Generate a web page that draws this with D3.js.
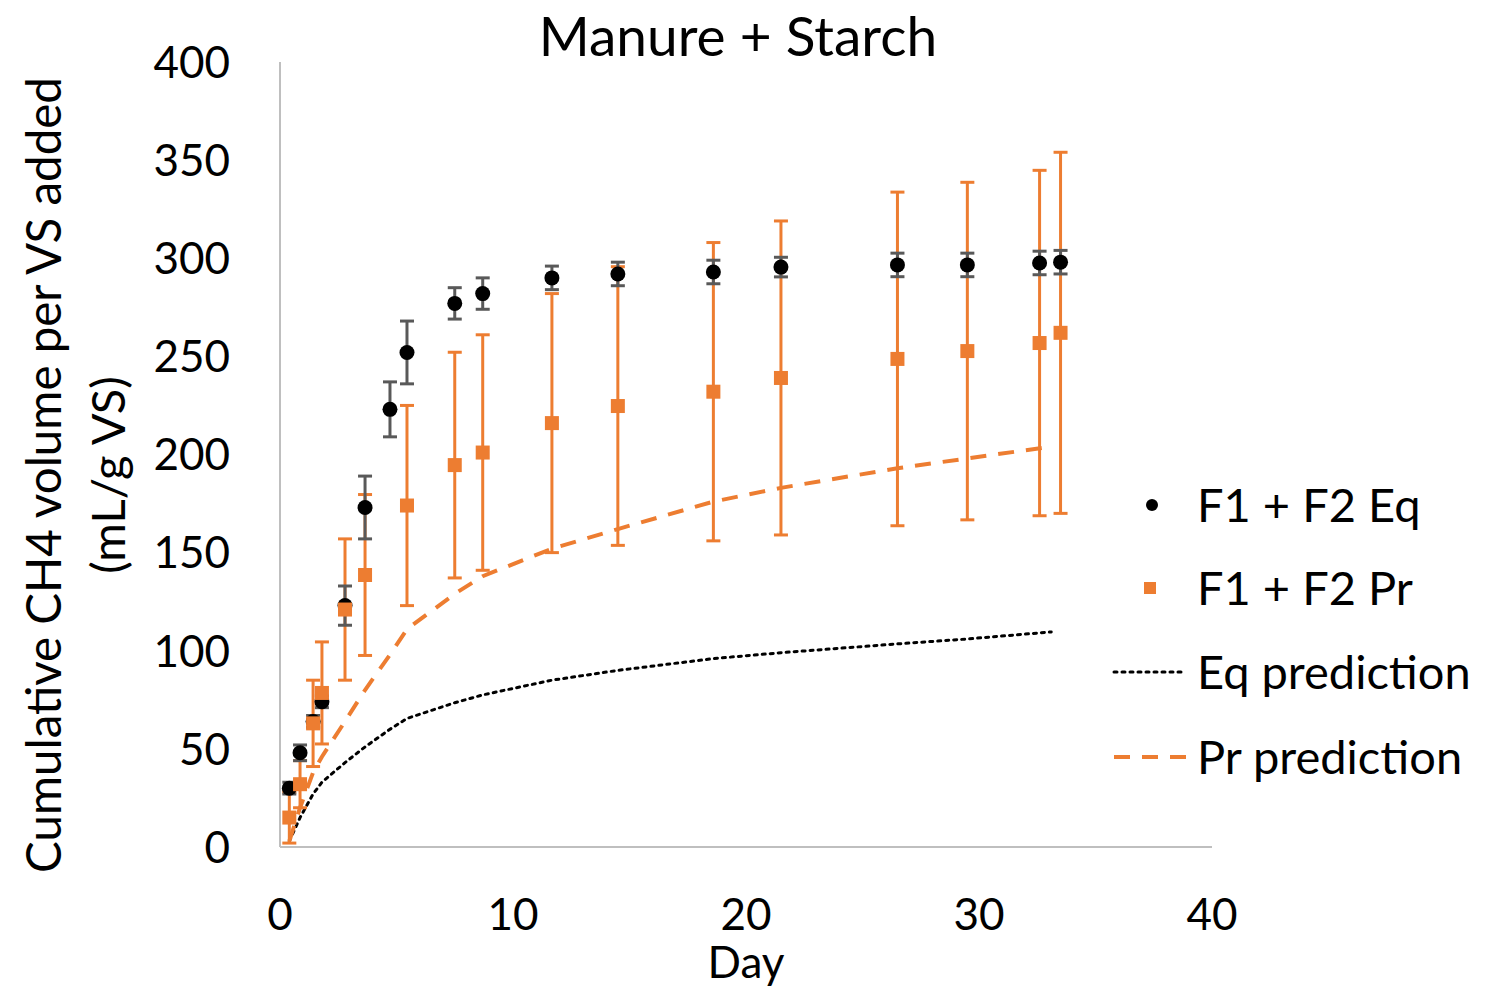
<!DOCTYPE html>
<html>
<head>
<meta charset="utf-8">
<script src="https://cdn.jsdelivr.net/npm/d3@7"></script>
<style>
  body { margin: 0; background: #fff; }
  svg text { font-family: Lato, "Open Sans", sans-serif; fill: #000; }
</style>
</head>
<body>
<svg id="chart" width="1491" height="986"></svg>
<script>
// measured days (same for both series)
var days = [0.4, 0.86, 1.42, 1.8, 2.79, 3.65, 4.72, 5.45, 7.5, 8.7, 11.67, 14.5, 18.6, 21.5, 26.5, 29.5, 32.6, 33.5]

// F1 + F2 Eq (mean, error)
var eqVals = [30, 48, 64, 74, 123, 173, 223, 252, 277, 282, 290, 292, 293, 295.5, 296.6, 296.6, 297.6, 298]
var eqErr  = [3, 4, 3, 3, 10, 16, 14, 16, 8, 8, 6, 6, 6, 5, 6, 6, 6, 6]

// F1 + F2 Pr (mean, error)
var prVals = [15, 32, 63, 78.5, 121, 138.6, 174, 194.6, 201, 216, 224.7, 232, 239, 248.7, 252.7, 256.8, 262]
var prDays = [0.4, 0.86, 1.42, 1.8, 2.79, 3.65, 5.45, 7.5, 8.7, 11.67, 14.5, 18.6, 21.5, 26.5, 29.5, 32.6, 33.5]
var prErr  = [13, 12, 22, 26, 36, 41, 51, 57.5, 60, 66, 71, 76, 80, 85, 86, 88, 92]

// model predictions
var predDays = [0.4, 0.86, 1.42, 1.8, 2.79, 3.65, 4.72, 5.45, 7.5, 8.7, 11.67, 14.5, 18.6, 21.5, 26.5, 29.5, 33.1]
var eqPred   = [3, 15, 27, 33, 43, 51, 60, 65.5, 73.5, 77.5, 85, 90, 96, 99, 103.5, 106, 109.6]
var prPred   = [3, 20, 38, 46, 64, 80, 98, 111, 129, 138, 152, 162, 176, 183, 193, 198, 204]

var xTicks = [0, 10, 20, 30, 40]
var yTicks = [0, 50, 100, 150, 200, 250, 300, 350, 400]

var orange = '#ED7D31'
var svg = d3.select('#chart')

var x = d3.scaleLinear().domain([0, 40]).range([280, 1212])
var y = d3.scaleLinear().domain([0, 400]).range([847, 62])

// axes lines
svg.append('line').attr('x1', 280).attr('x2', 280).attr('y1', y(400)).attr('y2', y(0))
  .attr('stroke', '#bfbfbf').attr('stroke-width', 2)
svg.append('line').attr('x1', 280).attr('x2', x(40)).attr('y1', y(0)).attr('y2', y(0))
  .attr('stroke', '#bfbfbf').attr('stroke-width', 2)

svg.selectAll('.ytick').data(yTicks).enter().append('text')
  .attr('class', 'ytick')
  .attr('x', 230).attr('y', function(d){ return y(d) })
  .attr('dy', '0.36em').attr('text-anchor', 'end')
  .style('font-size', '44px')
  .text(function(d){ return d })

svg.selectAll('.xtick').data(xTicks).enter().append('text')
  .attr('class', 'xtick')
  .attr('x', function(d){ return x(d) }).attr('y', 914)
  .attr('dy', '0.36em').attr('text-anchor', 'middle')
  .style('font-size', '44px')
  .text(function(d){ return d })

// titles
svg.append('text').attr('x', 738).attr('y', 56).attr('text-anchor', 'middle')
  .style('font-size', '55px').text('Manure + Starch')
svg.append('text').attr('x', 746).attr('y', 978).attr('text-anchor', 'middle')
  .style('font-size', '44px').text('Day')
svg.append('text').attr('transform', 'translate(61,475) rotate(-90)').attr('text-anchor', 'middle')
  .style('font-size', '47.5px').text('Cumulative CH4 volume per VS added')
svg.append('text').attr('transform', 'translate(125,475) rotate(-90)').attr('text-anchor', 'middle')
  .style('font-size', '47px').text('(mL/g VS)')

// prediction lines
var line = function(vals) {
  return d3.line().x(function(d, i){ return x(predDays[i]) }).y(function(d){ return y(d) })(vals)
}
svg.append('path').attr('d', line(eqPred)).attr('fill', 'none')
  .attr('stroke', '#000').attr('stroke-width', 3).attr('stroke-dasharray', '3,5')
  .attr('stroke-linecap', 'round')
svg.append('path').attr('d', line(prPred)).attr('fill', 'none')
  .attr('stroke', orange).attr('stroke-width', 4).attr('stroke-dasharray', '16,12')

// error bars
function errBars(cls, xs, vals, errs, color, w) {
  var g = svg.append('g').attr('class', cls)
  var bars = g.selectAll('g').data(vals).enter().append('g')
  bars.append('line')
    .attr('x1', function(d, i){ return x(xs[i]) }).attr('x2', function(d, i){ return x(xs[i]) })
    .attr('y1', function(d, i){ return y(d + errs[i]) }).attr('y2', function(d, i){ return y(d - errs[i]) })
    .attr('stroke', color).attr('stroke-width', w)
  ;[1, -1].forEach(function(s){
    bars.append('line')
      .attr('x1', function(d, i){ return x(xs[i]) - 7 }).attr('x2', function(d, i){ return x(xs[i]) + 7 })
      .attr('y1', function(d, i){ return y(d + s * errs[i]) }).attr('y2', function(d, i){ return y(d + s * errs[i]) })
      .attr('stroke', color).attr('stroke-width', w)
  })
}
errBars('prErr', prDays, prVals, prErr, orange, 3)
errBars('eqErr', days, eqVals, eqErr, '#595959', 3)

svg.selectAll('.eq').data(eqVals).enter().append('circle')
  .attr('class', 'eq')
  .attr('cx', function(d, i){ return x(days[i]) }).attr('cy', function(d){ return y(d) })
  .attr('r', 7.5).attr('fill', '#000')

svg.selectAll('.pr').data(prVals).enter().append('rect')
  .attr('class', 'pr')
  .attr('x', function(d, i){ return x(prDays[i]) - 7 }).attr('y', function(d){ return y(d) - 7 })
  .attr('width', 14).attr('height', 14).attr('fill', orange)

// legend
var leg = svg.append('g')
leg.append('circle').attr('cx', 1152).attr('cy', 505).attr('r', 6).attr('fill', '#000')
leg.append('rect').attr('x', 1144).attr('y', 582).attr('width', 12).attr('height', 12).attr('fill', orange)
leg.append('line').attr('x1', 1114).attr('x2', 1185).attr('y1', 672).attr('y2', 672)
  .attr('stroke', '#000').attr('stroke-width', 3).attr('stroke-dasharray', '3,5').attr('stroke-linecap', 'round')
leg.append('line').attr('x1', 1114).attr('x2', 1188).attr('y1', 757).attr('y2', 757)
  .attr('stroke', orange).attr('stroke-width', 4).attr('stroke-dasharray', '16,12')
var legText = ['F1 + F2 Eq', 'F1 + F2 Pr', 'Eq prediction', 'Pr prediction']
var legY = [505, 588, 672, 757]
leg.selectAll('text').data(legText).enter().append('text')
  .attr('x', 1197).attr('y', function(d, i){ return legY[i] }).attr('dy', '0.36em')
  .style('font-size', '47px').text(function(d){ return d })
</script>
</body>
</html>
